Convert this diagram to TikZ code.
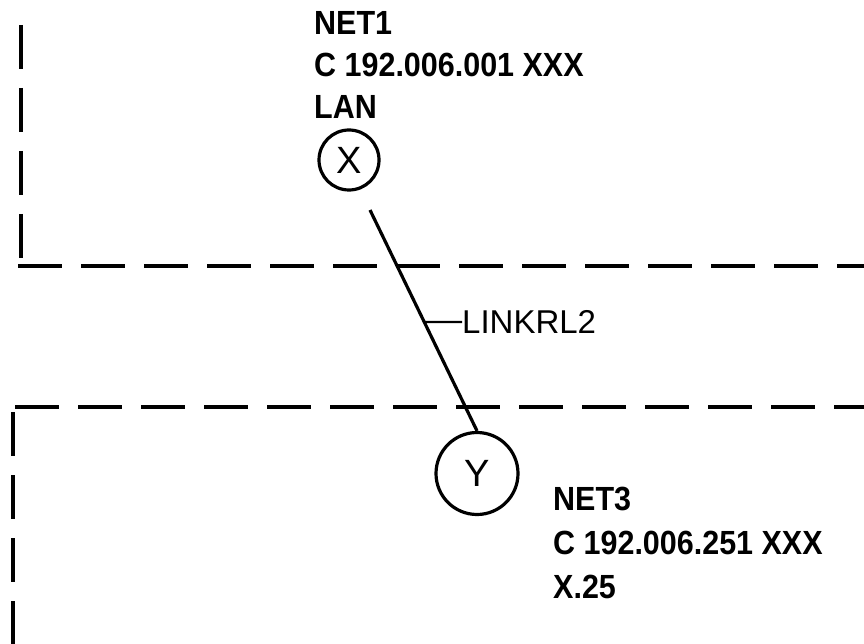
\documentclass[tikz,border=0pt]{standalone}
\usepackage{fontspec}
\setmainfont{Liberation Sans}
\newfontfamily\netfont[FakeStretch=0.91]{Liberation Sans Bold}
\newfontfamily\lblfont[FakeStretch=1.0]{Liberation Sans}
\usetikzlibrary{calc}
\tikzset{
  bound/.style={line width=3.6pt, dash pattern=on 44pt off 19pt},
  site/.style={circle, draw, line width=3.2pt, inner sep=0pt, font=\fontsize{38}{38}\selectfont},
  nettext/.style={anchor=base west, inner sep=0pt, font=\netfont\fontsize{33.5}{33.5}\selectfont},
  linktext/.style={anchor=west, inner sep=0pt, font=\lblfont\fontsize{33}{33}\selectfont},
  link/.style={line width=3.2pt},
  tick/.style={line width=2.2pt}
}
\begin{document}
\begin{tikzpicture}[x=1pt,y=-1pt]
\useasboundingbox (0,0) rectangle (864,644);
% boundaries
\draw[bound] (21,25) -- (21,260);
\draw[bound] (18,266) -- (864,266);
\draw[bound] (15,407) -- (864,407);
\draw[bound] (13,412) -- (13,644);
% sites
\node[site, minimum size=60pt] (X) at (349,160) {X};
\node[site, minimum size=82pt] (Y) at (477,473.5) {Y};
% texts
\node[nettext] (n1a) at (314,35) {NET1};
\node[nettext] (n1b) at (314,77) {C 192.006.001 XXX};
\node[nettext] (n1c) at (314,119) {LAN};
\node[nettext] (n3a) at (553,510) {NET3};
\node[nettext] (n3b) at (553,554) {C 192.006.251 XXX};
\node[nettext] (n3c) at (553,598) {X.25};
% connector
\coordinate (xs) at (370,210);
\draw[link] (xs) -- coordinate[pos=0.507] (t) (Y.north);
\node[linktext] (lk) at (462,322) {LINKRL2};
\draw[tick] (t) -- (lk.west);
\end{tikzpicture}
\end{document}
